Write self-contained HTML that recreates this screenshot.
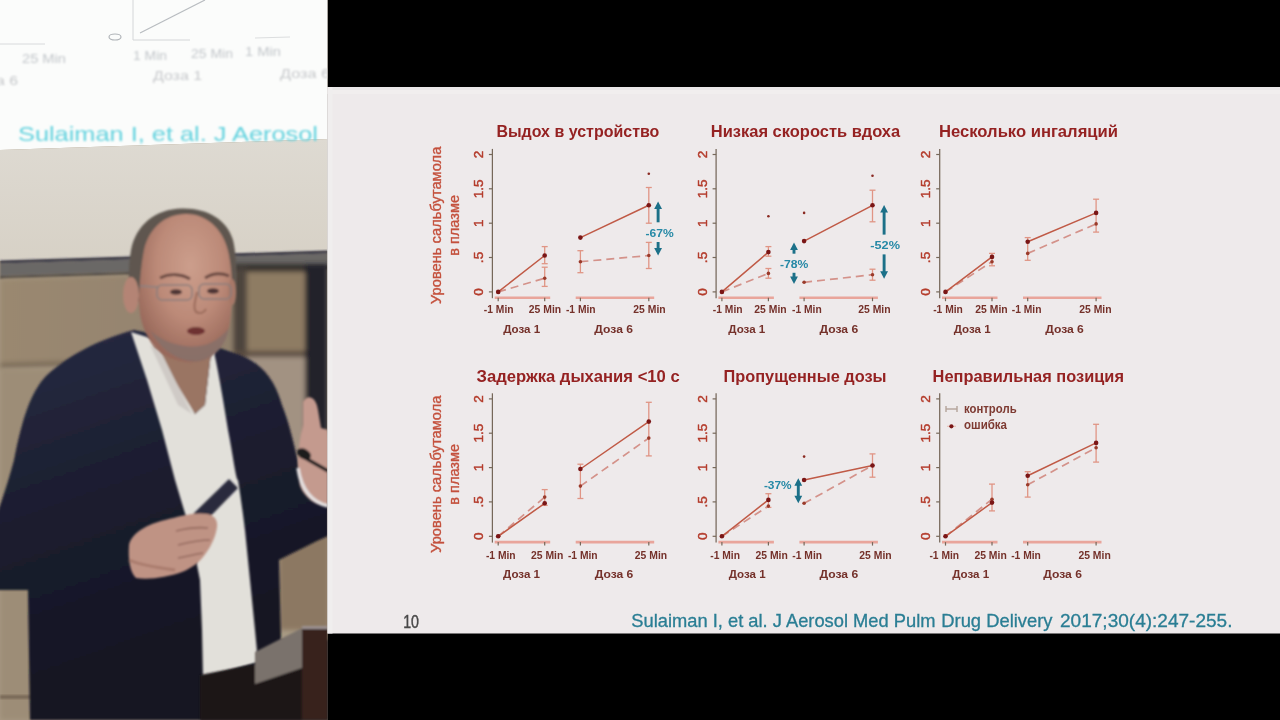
<!DOCTYPE html><html><head><meta charset="utf-8"><title>Slide</title><style>html,body{margin:0;padding:0;background:#000;width:1280px;height:720px;overflow:hidden}svg{position:absolute;left:0;top:0;display:block}</style></head><body>
<svg width="1280" height="720" viewBox="0 0 1280 720" font-family="'Liberation Sans', 'DejaVu Sans', sans-serif">
<rect x="0" y="0" width="1280" height="720" fill="#000"/>
<defs><clipPath id="pc"><rect x="0" y="0" width="327.5" height="720"/></clipPath><filter id="b1" x="-5%" y="-5%" width="110%" height="110%"><feGaussianBlur stdDeviation="1.2"/></filter><filter id="b2" x="-10%" y="-10%" width="120%" height="120%"><feGaussianBlur stdDeviation="2.5"/></filter><filter id="b3" x="-20%" y="-20%" width="140%" height="140%"><feGaussianBlur stdDeviation="5"/></filter><linearGradient id="scr" x1="0" y1="0" x2="0" y2="1"><stop offset="0" stop-color="#dedad2"/><stop offset="1" stop-color="#d7d1c6"/></linearGradient><linearGradient id="wallU" x1="0" y1="0" x2="1" y2="0"><stop offset="0" stop-color="#9a8870"/><stop offset="0.5" stop-color="#958470"/><stop offset="1" stop-color="#8a7a66"/></linearGradient><linearGradient id="suitG" x1="0" y1="0" x2="0.3" y2="1"><stop offset="0" stop-color="#282c44"/><stop offset="0.45" stop-color="#1c1e30"/><stop offset="1" stop-color="#121320"/></linearGradient><radialGradient id="faceG" cx="0.55" cy="0.35" r="0.65"><stop offset="0" stop-color="#cc9e8c"/><stop offset="0.55" stop-color="#bc8a78"/><stop offset="1" stop-color="#98685a"/></radialGradient></defs>
<g clip-path="url(#pc)">
<rect x="0" y="0" width="328" height="720" fill="#a89a84"/>
<path d="M0,0 L328,0 L328,139 L0,150 Z" fill="#fbfcfb"/>
<path d="M0,150 L328,139 L328,251 L0,261 Z" fill="url(#scr)"/>
<g filter="url(#b1)">
<path d="M0,260.5 L328,250.5 L328,253.5 L0,263.5 Z" fill="#3e3c4c"/>
<path d="M0,263.5 L328,253.5 L328,266 L0,276 Z" fill="#6a6866"/>
<path d="M0,276 L328,266 L328,269 L0,279 Z" fill="#4a4440"/>
</g>
<g filter="url(#b2)">
<path d="M0,279 L328,269 L328,720 L0,720 Z" fill="#a99b85"/>
<path d="M0,279 L328,269 L328,356 L0,366 Z" fill="url(#wallU)"/>
<path d="M0,363 L328,353 L328,358 L0,369 Z" fill="#7a6a58"/>
<rect x="233" y="264" width="95" height="8" fill="#34302f"/>
<rect x="233" y="268" width="14" height="90" fill="#4e443c"/>
<rect x="247" y="272" width="58" height="80" fill="#8e7c64"/>
<rect x="233" y="351" width="72" height="6" fill="#5a4c40"/>
<rect x="247" y="357" width="58" height="160" fill="#a29282"/>
<rect x="305" y="264" width="23" height="170" fill="#24242c"/>
</g>
<rect x="0" y="369" width="60" height="351" fill="#9d8d77" filter="url(#b2)"/><rect x="0" y="695" width="60" height="4" fill="#7a6a58" filter="url(#b1)"/>
<rect x="279" y="500" width="50" height="130" fill="#8c7862" filter="url(#b2)"/>
<g font-family="'Liberation Sans', 'DejaVu Sans', sans-serif" fill="#b8bcc0" font-size="12" filter="url(#b1)">
<text x="22" y="63" fill="#c2c6ca" textLength="44" lengthAdjust="spacingAndGlyphs">25 Min</text>
<text x="133" y="60" fill="#c2c6ca" textLength="34" lengthAdjust="spacingAndGlyphs">1 Min</text>
<text x="191" y="58" fill="#c2c6ca" textLength="42" lengthAdjust="spacingAndGlyphs">25 Min</text>
<text x="245" y="56" fill="#c2c6ca" textLength="36" lengthAdjust="spacingAndGlyphs">1 Min</text>
<text x="153" y="80" fill="#c6c8cb" textLength="49" lengthAdjust="spacingAndGlyphs">Доза 1</text>
<text x="280" y="78" fill="#c6c8cb" textLength="50" lengthAdjust="spacingAndGlyphs">Доза 6</text>
<text x="-4" y="85" fill="#c6c8cb" textLength="22" lengthAdjust="spacingAndGlyphs">a 6</text>
</g>
<ellipse cx="115" cy="37" rx="6" ry="3" fill="none" stroke="#b0b4b8" stroke-width="1.2"/>
<path d="M133,0 L133,40 L190,40" fill="none" stroke="#d4d6d8" stroke-width="1"/>
<path d="M140,33 L205,0" fill="none" stroke="#b8bcc0" stroke-width="1.2"/>
<path d="M0,44 L45,44" fill="none" stroke="#d8dadc" stroke-width="1"/>
<path d="M255,38 L290,37" fill="none" stroke="#dcdedf" stroke-width="1"/>
<text x="18" y="141" font-family="'Liberation Sans', 'DejaVu Sans', sans-serif" font-size="21" fill="#62d2de" textLength="300" lengthAdjust="spacingAndGlyphs" filter="url(#b1)">Sulaiman I, et al. J Aerosol</text>
<g filter="url(#b1)">
<path d="M134,330 C104,338 72,352 46,376 C30,393 22,420 14,460 C6,490 0,505 -5,520 L-5,590 L28,590 L30,720 L330,720 L330,640 L281,640 L279,560 C295,552 312,543 328,536 L328,470 L300,470 C294,445 290,425 282,405 C274,378 262,364 240,355 L214,346 Z" fill="url(#suitG)"/>
<path d="M150,345 C170,400 190,450 200,520" fill="none" stroke="#2e3450" stroke-width="3" opacity="0.7"/>
</g>
<g filter="url(#b1)">
<path d="M131,332 L150,338 L160,345 L195,414 L205,405 L212,345 L214,352 C220,380 224,405 228,430 C233,455 236,480 238,480 C242,505 245,530 245,530 L250,580 L255,630 L258,662 L203,678 L202,630 L200,580 L190,530 L175,480 L162,430 L147,380 Z" fill="#e2e0da"/>
<path d="M150,340 L195,414 L205,405 L212,345 C200,360 170,362 150,340 Z" fill="#9a7464"/>
<path d="M160,350 L192,414 L178,405 L150,345 Z" fill="#cfcac6"/>
</g>
<g filter="url(#b1)">
<path d="M182,208.5 C155,209 136,225 131,250 C128,268 128,285 131,302 L235,302 C237,282 237,256 233,240 C227,220 208,208 182,208.5 Z" fill="#5e5750"/>
<path d="M186,214 C165,214 149,228 144,250 C141,265 140,280 139,295 C138,320 146,340 160,352 C172,361 188,364 201,361 C216,357 227,343 230,322 C233,300 233,275 229,255 C225,232 209,214 186,214 Z" fill="url(#faceG)"/>
<ellipse cx="131" cy="295" rx="8" ry="18" fill="#b48474"/>
<ellipse cx="232" cy="292" rx="4" ry="13" fill="#a87868"/>
<path d="M150,330 C160,350 180,364 200,361 C216,357 226,345 229,328 C215,345 200,348 185,346 C170,344 158,338 150,330 Z" fill="#86706a" opacity="0.85"/>
<path d="M160,278 C170,273 182,274 190,279" fill="none" stroke="#6a4a42" stroke-width="2.8"/>
<path d="M205,278 C213,273 222,273 229,276" fill="none" stroke="#6a4a42" stroke-width="2.8"/>
<path d="M140,286 L158,287" fill="none" stroke="#8a8282" stroke-width="1.5"/>
<rect x="157" y="285" width="35" height="15" rx="5" fill="none" stroke="#8a7e7c" stroke-width="1.5"/>
<rect x="199" y="284" width="32" height="15" rx="5" fill="none" stroke="#8a7e7c" stroke-width="1.5"/>
<ellipse cx="176" cy="292" rx="6" ry="2.8" fill="#4e3434"/>
<ellipse cx="213" cy="291" rx="6" ry="2.8" fill="#4e3434"/>
<path d="M197,292 C195,302 193,308 196,312 C200,314 204,313 206,309" fill="none" stroke="#9a6a5a" stroke-width="2"/>
<ellipse cx="196" cy="331" rx="9" ry="4" fill="#6e3232"/>
</g>
<g filter="url(#b1)">
<path d="M229,479 L238,488 L201,526 L191,516 Z" fill="#2c2c3c"/>
<path d="M129,545 C132,532 148,524 165,520 C180,516 195,512 207,514 C214,515 218,520 217,527 C216,535 212,545 206,553 C200,562 192,568 182,572 C168,577 150,580 136,578 C130,572 128,560 129,545 Z" fill="#bf9384"/>
<path d="M176,531 C188,528 198,527 208,528 M178,545 C190,542 200,540 210,540 M178,558 C188,556 196,554 203,553" fill="none" stroke="#946a5e" stroke-width="1.6"/>
<path d="M129,560 C140,565 160,568 175,570" fill="none" stroke="#a87a6c" stroke-width="3"/>
</g>
<g filter="url(#b1)">
<path d="M303,402 C307,394 316,396 318,410 L321,428 L328,430 L328,506 C318,507 305,499 300,486 C296,470 298,445 303,425 Z" fill="#c49a8e"/>
<path d="M298,468 C301,490 313,503 328,506" fill="none" stroke="#e4e0e0" stroke-width="3.5"/>
<path d="M300,455 L328,471" stroke="#1a1a1e" stroke-width="3.5"/>
<ellipse cx="304" cy="454" rx="7.5" ry="5" fill="#1a1a1e" transform="rotate(30 304 454)"/>
</g>
<g filter="url(#b1)">
<path d="M200,675 L256,664 L302,640 L302,720 L200,720 Z" fill="#1a1519"/>
<path d="M255,652 L302,628 L302,668 L255,684 Z" fill="#7a726c"/>
<path d="M302,627 L328,627 L328,720 L302,720 Z" fill="#38201f"/>
<path d="M302,626 L328,626 L328,629 L302,629 Z" fill="#9a9090"/>
</g>
</g>
<defs><filter id="sb" x="0" y="0" width="100%" height="100%"><feGaussianBlur stdDeviation="0.45"/></filter></defs>
<rect x="327.5" y="87" width="953" height="546.5" fill="#eeeaeb"/><rect x="327.5" y="87" width="953" height="3" fill="#e9e7e8"/><rect x="327.5" y="90" width="953" height="4" fill="#f1eeee"/><rect x="327.5" y="87" width="5" height="546.5" fill="#f0eeee"/>
<g filter="url(#sb)">
<text x="496.4" y="137.1" font-size="17" fill="#952222" font-weight="bold" text-anchor="start" textLength="163.0" lengthAdjust="spacingAndGlyphs">Выдох в устройство</text>
<line x1="492.4" y1="148.89999999999998" x2="492.4" y2="298.2" stroke="#76685a" stroke-width="1.25"/>
<line x1="488.9" y1="291.9" x2="492.4" y2="291.9" stroke="#76685a" stroke-width="1.2"/>
<text transform="translate(482.8,291.9) rotate(-90)" font-size="13.5" fill="#b43c2c" stroke="#b43c2c" stroke-width="0.45" text-anchor="middle">0</text>
<line x1="488.9" y1="257.5" x2="492.4" y2="257.5" stroke="#76685a" stroke-width="1.2"/>
<text transform="translate(482.8,257.5) rotate(-90)" font-size="13.5" fill="#b43c2c" stroke="#b43c2c" stroke-width="0.45" text-anchor="middle">.5</text>
<line x1="488.9" y1="223.2" x2="492.4" y2="223.2" stroke="#76685a" stroke-width="1.2"/>
<text transform="translate(482.8,223.2) rotate(-90)" font-size="13.5" fill="#b43c2c" stroke="#b43c2c" stroke-width="0.45" text-anchor="middle">1</text>
<line x1="488.9" y1="188.8" x2="492.4" y2="188.8" stroke="#76685a" stroke-width="1.2"/>
<text transform="translate(482.8,188.8) rotate(-90)" font-size="13.5" fill="#b43c2c" stroke="#b43c2c" stroke-width="0.45" text-anchor="middle">1.5</text>
<line x1="488.9" y1="154.5" x2="492.4" y2="154.5" stroke="#76685a" stroke-width="1.2"/>
<text transform="translate(482.8,154.5) rotate(-90)" font-size="13.5" fill="#b43c2c" stroke="#b43c2c" stroke-width="0.45" text-anchor="middle">2</text>
<line x1="494.7" y1="297.7" x2="550.2" y2="297.7" stroke="#e9a59b" stroke-width="2.6"/>
<line x1="575.7" y1="297.7" x2="654.2" y2="297.7" stroke="#e9a59b" stroke-width="2.6"/>
<line x1="498.2" y1="297.7" x2="498.2" y2="301.2" stroke="#76685a" stroke-width="1.2"/>
<line x1="544.7" y1="297.7" x2="544.7" y2="301.2" stroke="#76685a" stroke-width="1.2"/>
<line x1="580.4" y1="297.7" x2="580.4" y2="301.2" stroke="#76685a" stroke-width="1.2"/>
<line x1="648.8" y1="297.7" x2="648.8" y2="301.2" stroke="#76685a" stroke-width="1.2"/>
<text x="498.7" y="313.1" font-size="11.5" fill="#74302a" font-weight="bold" text-anchor="middle" textLength="29.7" lengthAdjust="spacingAndGlyphs">-1 Min</text>
<text x="545.0" y="313.1" font-size="11.5" fill="#74302a" font-weight="bold" text-anchor="middle" textLength="32.3" lengthAdjust="spacingAndGlyphs">25 Min</text>
<text x="580.8" y="313.1" font-size="11.5" fill="#74302a" font-weight="bold" text-anchor="middle" textLength="29.7" lengthAdjust="spacingAndGlyphs">-1 Min</text>
<text x="649.5" y="313.1" font-size="11.5" fill="#74302a" font-weight="bold" text-anchor="middle" textLength="32.3" lengthAdjust="spacingAndGlyphs">25 Min</text>
<text x="521.7" y="332.8" font-size="11.8" fill="#74302a" font-weight="bold" text-anchor="middle" textLength="37.0" lengthAdjust="spacingAndGlyphs">Доза 1</text>
<text x="613.7" y="332.8" font-size="11.8" fill="#74302a" font-weight="bold" text-anchor="middle" textLength="38.7" lengthAdjust="spacingAndGlyphs">Доза 6</text>
<g stroke="#e09585" stroke-width="1.3"><line x1="544.7" y1="263.7" x2="544.7" y2="246.6"/><line x1="541.7" y1="263.7" x2="547.7" y2="263.7"/><line x1="541.7" y1="246.6" x2="547.7" y2="246.6"/></g>
<g stroke="#e09585" stroke-width="1.3"><line x1="544.7" y1="286.4" x2="544.7" y2="267.2"/><line x1="541.7" y1="286.4" x2="547.7" y2="286.4"/><line x1="541.7" y1="267.2" x2="547.7" y2="267.2"/></g>
<g stroke="#e09585" stroke-width="1.3"><line x1="580.4" y1="272.7" x2="580.4" y2="250.7"/><line x1="577.4" y1="272.7" x2="583.4" y2="272.7"/><line x1="577.4" y1="250.7" x2="583.4" y2="250.7"/></g>
<g stroke="#e09585" stroke-width="1.3"><line x1="648.8" y1="223.2" x2="648.8" y2="187.5"/><line x1="645.8" y1="223.2" x2="651.8" y2="223.2"/><line x1="645.8" y1="187.5" x2="651.8" y2="187.5"/></g>
<g stroke="#e09585" stroke-width="1.3"><line x1="648.8" y1="268.5" x2="648.8" y2="242.4"/><line x1="645.8" y1="268.5" x2="651.8" y2="268.5"/><line x1="645.8" y1="242.4" x2="651.8" y2="242.4"/></g>
<path d="M498.2,291.9 L544.7,278.2 M580.4,261.7 L648.8,255.5" stroke="#d4928a" stroke-width="1.7" fill="none" stroke-dasharray="8,5"/>
<path d="M498.2,291.9 L544.7,255.5 M580.4,237.6 L648.8,205.3" stroke="#c05a46" stroke-width="1.5" fill="none"/>
<circle cx="498.2" cy="291.9" r="1.8" fill="#9a3a2c"/>
<circle cx="544.7" cy="278.2" r="1.8" fill="#9a3a2c"/>
<circle cx="580.4" cy="261.7" r="1.8" fill="#9a3a2c"/>
<circle cx="648.8" cy="255.5" r="1.8" fill="#9a3a2c"/>
<circle cx="498.2" cy="291.9" r="2.3" fill="#7a1616"/>
<circle cx="544.7" cy="255.5" r="2.3" fill="#7a1616"/>
<circle cx="580.4" cy="237.6" r="2.3" fill="#7a1616"/>
<circle cx="648.8" cy="205.3" r="2.3" fill="#7a1616"/>
<circle cx="648.8" cy="173.7" r="1.3" fill="#8a2a20"/>
<text transform="translate(441,225.4) rotate(-90)" font-size="14.6" fill="#c4503c" stroke="#c4503c" stroke-width="0.35" text-anchor="middle" textLength="157.5" lengthAdjust="spacingAndGlyphs">Уровень сальбутамола</text>
<text transform="translate(458.5,225.4) rotate(-90)" font-size="14.6" fill="#c4503c" stroke="#c4503c" stroke-width="0.35" text-anchor="middle" textLength="60.8" lengthAdjust="spacingAndGlyphs">в плазме</text>
<line x1="658.1" y1="208.0" x2="658.1" y2="222.3" stroke="#1a6f88" stroke-width="2.9"/><path d="M654.2,209.0 L658.1,201.5 L662.0,209.0 Z" fill="#1a6f88"/>
<text x="659.7" y="237.4" font-size="11.8" fill="#2689a6" font-weight="bold" text-anchor="middle" textLength="28.2" lengthAdjust="spacingAndGlyphs">-67%</text>
<line x1="658.1" y1="242" x2="658.1" y2="249.1" stroke="#1a6f88" stroke-width="2.9"/><path d="M654.2,248.1 L658.1,255.6 L662.0,248.1 Z" fill="#1a6f88"/>
<text x="710.8" y="137.1" font-size="17" fill="#952222" font-weight="bold" text-anchor="start" textLength="189.4" lengthAdjust="spacingAndGlyphs">Низкая скорость вдоха</text>
<line x1="716.1" y1="148.89999999999998" x2="716.1" y2="298.2" stroke="#76685a" stroke-width="1.25"/>
<line x1="712.6" y1="291.9" x2="716.1" y2="291.9" stroke="#76685a" stroke-width="1.2"/>
<text transform="translate(706.5,291.9) rotate(-90)" font-size="13.5" fill="#b43c2c" stroke="#b43c2c" stroke-width="0.45" text-anchor="middle">0</text>
<line x1="712.6" y1="257.5" x2="716.1" y2="257.5" stroke="#76685a" stroke-width="1.2"/>
<text transform="translate(706.5,257.5) rotate(-90)" font-size="13.5" fill="#b43c2c" stroke="#b43c2c" stroke-width="0.45" text-anchor="middle">.5</text>
<line x1="712.6" y1="223.2" x2="716.1" y2="223.2" stroke="#76685a" stroke-width="1.2"/>
<text transform="translate(706.5,223.2) rotate(-90)" font-size="13.5" fill="#b43c2c" stroke="#b43c2c" stroke-width="0.45" text-anchor="middle">1</text>
<line x1="712.6" y1="188.8" x2="716.1" y2="188.8" stroke="#76685a" stroke-width="1.2"/>
<text transform="translate(706.5,188.8) rotate(-90)" font-size="13.5" fill="#b43c2c" stroke="#b43c2c" stroke-width="0.45" text-anchor="middle">1.5</text>
<line x1="712.6" y1="154.5" x2="716.1" y2="154.5" stroke="#76685a" stroke-width="1.2"/>
<text transform="translate(706.5,154.5) rotate(-90)" font-size="13.5" fill="#b43c2c" stroke="#b43c2c" stroke-width="0.45" text-anchor="middle">2</text>
<line x1="718.4" y1="297.7" x2="773.9" y2="297.7" stroke="#e9a59b" stroke-width="2.6"/>
<line x1="799.4" y1="297.7" x2="877.9" y2="297.7" stroke="#e9a59b" stroke-width="2.6"/>
<line x1="721.9" y1="297.7" x2="721.9" y2="301.2" stroke="#76685a" stroke-width="1.2"/>
<line x1="768.4" y1="297.7" x2="768.4" y2="301.2" stroke="#76685a" stroke-width="1.2"/>
<line x1="804.1" y1="297.7" x2="804.1" y2="301.2" stroke="#76685a" stroke-width="1.2"/>
<line x1="872.5" y1="297.7" x2="872.5" y2="301.2" stroke="#76685a" stroke-width="1.2"/>
<text x="727.7" y="313.1" font-size="11.5" fill="#74302a" font-weight="bold" text-anchor="middle" textLength="29.7" lengthAdjust="spacingAndGlyphs">-1 Min</text>
<text x="770.5" y="313.1" font-size="11.5" fill="#74302a" font-weight="bold" text-anchor="middle" textLength="32.3" lengthAdjust="spacingAndGlyphs">25 Min</text>
<text x="806.9" y="313.1" font-size="11.5" fill="#74302a" font-weight="bold" text-anchor="middle" textLength="29.7" lengthAdjust="spacingAndGlyphs">-1 Min</text>
<text x="874.4" y="313.1" font-size="11.5" fill="#74302a" font-weight="bold" text-anchor="middle" textLength="32.3" lengthAdjust="spacingAndGlyphs">25 Min</text>
<text x="746.8" y="332.8" font-size="11.8" fill="#74302a" font-weight="bold" text-anchor="middle" textLength="37.0" lengthAdjust="spacingAndGlyphs">Доза 1</text>
<text x="838.8" y="332.8" font-size="11.8" fill="#74302a" font-weight="bold" text-anchor="middle" textLength="38.7" lengthAdjust="spacingAndGlyphs">Доза 6</text>
<g stroke="#e09585" stroke-width="1.3"><line x1="768.4" y1="256.2" x2="768.4" y2="246.6"/><line x1="765.4" y1="256.2" x2="771.4" y2="256.2"/><line x1="765.4" y1="246.6" x2="771.4" y2="246.6"/></g>
<g stroke="#e09585" stroke-width="1.3"><line x1="768.4" y1="278.2" x2="768.4" y2="268.5"/><line x1="765.4" y1="278.2" x2="771.4" y2="278.2"/><line x1="765.4" y1="268.5" x2="771.4" y2="268.5"/></g>
<g stroke="#e09585" stroke-width="1.3"><line x1="872.5" y1="221.8" x2="872.5" y2="190.2"/><line x1="869.5" y1="221.8" x2="875.5" y2="221.8"/><line x1="869.5" y1="190.2" x2="875.5" y2="190.2"/></g>
<g stroke="#e09585" stroke-width="1.3"><line x1="872.5" y1="280.2" x2="872.5" y2="269.2"/><line x1="869.5" y1="280.2" x2="875.5" y2="280.2"/><line x1="869.5" y1="269.2" x2="875.5" y2="269.2"/></g>
<path d="M721.9,291.9 L768.4,273.4 M804.1,282.3 L872.5,274.7" stroke="#d4928a" stroke-width="1.7" fill="none" stroke-dasharray="8,5"/>
<path d="M721.9,291.9 L768.4,252.1 M804.1,241.1 L872.5,205.3" stroke="#c05a46" stroke-width="1.5" fill="none"/>
<circle cx="721.9" cy="291.9" r="1.8" fill="#9a3a2c"/>
<circle cx="768.4" cy="273.4" r="1.8" fill="#9a3a2c"/>
<circle cx="804.1" cy="282.3" r="1.8" fill="#9a3a2c"/>
<circle cx="872.5" cy="274.7" r="1.8" fill="#9a3a2c"/>
<circle cx="721.9" cy="291.9" r="2.3" fill="#7a1616"/>
<circle cx="768.4" cy="252.1" r="2.3" fill="#7a1616"/>
<circle cx="804.1" cy="241.1" r="2.3" fill="#7a1616"/>
<circle cx="872.5" cy="205.3" r="2.3" fill="#7a1616"/>
<circle cx="768.4" cy="216.3" r="1.3" fill="#8a2a20"/>
<circle cx="804.1" cy="212.9" r="1.3" fill="#8a2a20"/>
<circle cx="872.5" cy="175.8" r="1.3" fill="#8a2a20"/>
<line x1="794" y1="249.0" x2="794" y2="253.7" stroke="#1a6f88" stroke-width="2.9"/><path d="M790.1,250.0 L794,242.5 L797.9,250.0 Z" fill="#1a6f88"/>
<text x="794.1" y="267.6" font-size="11.8" fill="#2689a6" font-weight="bold" text-anchor="middle" textLength="28.4" lengthAdjust="spacingAndGlyphs">-78%</text>
<line x1="794" y1="272.8" x2="794" y2="277.5" stroke="#1a6f88" stroke-width="2.9"/><path d="M790.1,276.5 L794,284 L797.9,276.5 Z" fill="#1a6f88"/>
<line x1="884.1" y1="211.4" x2="884.1" y2="234.6" stroke="#1a6f88" stroke-width="2.9"/><path d="M880.2,212.4 L884.1,204.9 L888.0,212.4 Z" fill="#1a6f88"/>
<text x="885.1" y="249.0" font-size="11.8" fill="#2689a6" font-weight="bold" text-anchor="middle" textLength="29.7" lengthAdjust="spacingAndGlyphs">-52%</text>
<line x1="884.1" y1="254.4" x2="884.1" y2="272.3" stroke="#1a6f88" stroke-width="2.9"/><path d="M880.2,271.3 L884.1,278.8 L888.0,271.3 Z" fill="#1a6f88"/>
<text x="939.0" y="137.1" font-size="17" fill="#952222" font-weight="bold" text-anchor="start" textLength="179.0" lengthAdjust="spacingAndGlyphs">Несколько ингаляций</text>
<line x1="939.7" y1="148.89999999999998" x2="939.7" y2="298.2" stroke="#76685a" stroke-width="1.25"/>
<line x1="936.2" y1="291.9" x2="939.7" y2="291.9" stroke="#76685a" stroke-width="1.2"/>
<text transform="translate(930.1,291.9) rotate(-90)" font-size="13.5" fill="#b43c2c" stroke="#b43c2c" stroke-width="0.45" text-anchor="middle">0</text>
<line x1="936.2" y1="257.5" x2="939.7" y2="257.5" stroke="#76685a" stroke-width="1.2"/>
<text transform="translate(930.1,257.5) rotate(-90)" font-size="13.5" fill="#b43c2c" stroke="#b43c2c" stroke-width="0.45" text-anchor="middle">.5</text>
<line x1="936.2" y1="223.2" x2="939.7" y2="223.2" stroke="#76685a" stroke-width="1.2"/>
<text transform="translate(930.1,223.2) rotate(-90)" font-size="13.5" fill="#b43c2c" stroke="#b43c2c" stroke-width="0.45" text-anchor="middle">1</text>
<line x1="936.2" y1="188.8" x2="939.7" y2="188.8" stroke="#76685a" stroke-width="1.2"/>
<text transform="translate(930.1,188.8) rotate(-90)" font-size="13.5" fill="#b43c2c" stroke="#b43c2c" stroke-width="0.45" text-anchor="middle">1.5</text>
<line x1="936.2" y1="154.5" x2="939.7" y2="154.5" stroke="#76685a" stroke-width="1.2"/>
<text transform="translate(930.1,154.5) rotate(-90)" font-size="13.5" fill="#b43c2c" stroke="#b43c2c" stroke-width="0.45" text-anchor="middle">2</text>
<line x1="942.0" y1="297.7" x2="997.5" y2="297.7" stroke="#e9a59b" stroke-width="2.6"/>
<line x1="1023.0" y1="297.7" x2="1101.5" y2="297.7" stroke="#e9a59b" stroke-width="2.6"/>
<line x1="945.5" y1="297.7" x2="945.5" y2="301.2" stroke="#76685a" stroke-width="1.2"/>
<line x1="992.0" y1="297.7" x2="992.0" y2="301.2" stroke="#76685a" stroke-width="1.2"/>
<line x1="1027.7" y1="297.7" x2="1027.7" y2="301.2" stroke="#76685a" stroke-width="1.2"/>
<line x1="1096.1" y1="297.7" x2="1096.1" y2="301.2" stroke="#76685a" stroke-width="1.2"/>
<text x="948.0" y="313.1" font-size="11.5" fill="#74302a" font-weight="bold" text-anchor="middle" textLength="29.7" lengthAdjust="spacingAndGlyphs">-1 Min</text>
<text x="991.5" y="313.1" font-size="11.5" fill="#74302a" font-weight="bold" text-anchor="middle" textLength="32.3" lengthAdjust="spacingAndGlyphs">25 Min</text>
<text x="1026.6" y="313.1" font-size="11.5" fill="#74302a" font-weight="bold" text-anchor="middle" textLength="29.7" lengthAdjust="spacingAndGlyphs">-1 Min</text>
<text x="1095.4" y="313.1" font-size="11.5" fill="#74302a" font-weight="bold" text-anchor="middle" textLength="32.3" lengthAdjust="spacingAndGlyphs">25 Min</text>
<text x="972.2" y="332.8" font-size="11.8" fill="#74302a" font-weight="bold" text-anchor="middle" textLength="37.0" lengthAdjust="spacingAndGlyphs">Доза 1</text>
<text x="1064.5" y="332.8" font-size="11.8" fill="#74302a" font-weight="bold" text-anchor="middle" textLength="38.7" lengthAdjust="spacingAndGlyphs">Доза 6</text>
<g stroke="#e09585" stroke-width="1.3"><line x1="992.0" y1="265.8" x2="992.0" y2="253.4"/><line x1="989.0" y1="265.8" x2="995.0" y2="265.8"/><line x1="989.0" y1="253.4" x2="995.0" y2="253.4"/></g>
<g stroke="#e09585" stroke-width="1.3"><line x1="1027.7" y1="260.3" x2="1027.7" y2="237.6"/><line x1="1024.7" y1="260.3" x2="1030.7" y2="260.3"/><line x1="1024.7" y1="237.6" x2="1030.7" y2="237.6"/></g>
<g stroke="#e09585" stroke-width="1.3"><line x1="1096.1" y1="232.1" x2="1096.1" y2="199.2"/><line x1="1093.1" y1="232.1" x2="1099.1" y2="232.1"/><line x1="1093.1" y1="199.2" x2="1099.1" y2="199.2"/></g>
<path d="M945.5,291.9 L992.0,261.7 M1027.7,253.4 L1096.1,223.9" stroke="#d4928a" stroke-width="1.7" fill="none" stroke-dasharray="8,5"/>
<path d="M945.5,291.9 L992.0,256.9 M1027.7,241.7 L1096.1,212.9" stroke="#c05a46" stroke-width="1.5" fill="none"/>
<circle cx="945.5" cy="291.9" r="1.8" fill="#9a3a2c"/>
<circle cx="992.0" cy="261.7" r="1.8" fill="#9a3a2c"/>
<circle cx="1027.7" cy="253.4" r="1.8" fill="#9a3a2c"/>
<circle cx="1096.1" cy="223.9" r="1.8" fill="#9a3a2c"/>
<circle cx="945.5" cy="291.9" r="2.3" fill="#7a1616"/>
<circle cx="992.0" cy="256.9" r="2.3" fill="#7a1616"/>
<circle cx="1027.7" cy="241.7" r="2.3" fill="#7a1616"/>
<circle cx="1096.1" cy="212.9" r="2.3" fill="#7a1616"/>
<text x="476.5" y="381.5" font-size="17" fill="#952222" font-weight="bold" text-anchor="start" textLength="203.2" lengthAdjust="spacingAndGlyphs">Задержка дыхания &lt;10 с</text>
<line x1="492.4" y1="393.29999999999995" x2="492.4" y2="542.5999999999999" stroke="#76685a" stroke-width="1.25"/>
<line x1="488.9" y1="536.3" x2="492.4" y2="536.3" stroke="#76685a" stroke-width="1.2"/>
<text transform="translate(482.8,536.3) rotate(-90)" font-size="13.5" fill="#b43c2c" stroke="#b43c2c" stroke-width="0.45" text-anchor="middle">0</text>
<line x1="488.9" y1="501.9" x2="492.4" y2="501.9" stroke="#76685a" stroke-width="1.2"/>
<text transform="translate(482.8,501.9) rotate(-90)" font-size="13.5" fill="#b43c2c" stroke="#b43c2c" stroke-width="0.45" text-anchor="middle">.5</text>
<line x1="488.9" y1="467.6" x2="492.4" y2="467.6" stroke="#76685a" stroke-width="1.2"/>
<text transform="translate(482.8,467.6) rotate(-90)" font-size="13.5" fill="#b43c2c" stroke="#b43c2c" stroke-width="0.45" text-anchor="middle">1</text>
<line x1="488.9" y1="433.2" x2="492.4" y2="433.2" stroke="#76685a" stroke-width="1.2"/>
<text transform="translate(482.8,433.2) rotate(-90)" font-size="13.5" fill="#b43c2c" stroke="#b43c2c" stroke-width="0.45" text-anchor="middle">1.5</text>
<line x1="488.9" y1="398.9" x2="492.4" y2="398.9" stroke="#76685a" stroke-width="1.2"/>
<text transform="translate(482.8,398.9) rotate(-90)" font-size="13.5" fill="#b43c2c" stroke="#b43c2c" stroke-width="0.45" text-anchor="middle">2</text>
<line x1="494.7" y1="542.0999999999999" x2="550.2" y2="542.0999999999999" stroke="#e9a59b" stroke-width="2.6"/>
<line x1="575.7" y1="542.0999999999999" x2="654.2" y2="542.0999999999999" stroke="#e9a59b" stroke-width="2.6"/>
<line x1="498.2" y1="542.0999999999999" x2="498.2" y2="545.5999999999999" stroke="#76685a" stroke-width="1.2"/>
<line x1="544.7" y1="542.0999999999999" x2="544.7" y2="545.5999999999999" stroke="#76685a" stroke-width="1.2"/>
<line x1="580.4" y1="542.0999999999999" x2="580.4" y2="545.5999999999999" stroke="#76685a" stroke-width="1.2"/>
<line x1="648.8" y1="542.0999999999999" x2="648.8" y2="545.5999999999999" stroke="#76685a" stroke-width="1.2"/>
<text x="500.8" y="558.6" font-size="11.5" fill="#74302a" font-weight="bold" text-anchor="middle" textLength="29.7" lengthAdjust="spacingAndGlyphs">-1 Min</text>
<text x="547.2" y="558.6" font-size="11.5" fill="#74302a" font-weight="bold" text-anchor="middle" textLength="32.3" lengthAdjust="spacingAndGlyphs">25 Min</text>
<text x="582.8" y="558.6" font-size="11.5" fill="#74302a" font-weight="bold" text-anchor="middle" textLength="29.7" lengthAdjust="spacingAndGlyphs">-1 Min</text>
<text x="651.0" y="558.6" font-size="11.5" fill="#74302a" font-weight="bold" text-anchor="middle" textLength="32.3" lengthAdjust="spacingAndGlyphs">25 Min</text>
<text x="521.5" y="577.8" font-size="11.8" fill="#74302a" font-weight="bold" text-anchor="middle" textLength="37.0" lengthAdjust="spacingAndGlyphs">Доза 1</text>
<text x="614.0" y="577.8" font-size="11.8" fill="#74302a" font-weight="bold" text-anchor="middle" textLength="38.7" lengthAdjust="spacingAndGlyphs">Доза 6</text>
<g stroke="#e09585" stroke-width="1.3"><line x1="544.7" y1="505.4" x2="544.7" y2="489.6"/><line x1="541.7" y1="505.4" x2="547.7" y2="505.4"/><line x1="541.7" y1="489.6" x2="547.7" y2="489.6"/></g>
<g stroke="#e09585" stroke-width="1.3"><line x1="580.4" y1="498.5" x2="580.4" y2="464.2"/><line x1="577.4" y1="498.5" x2="583.4" y2="498.5"/><line x1="577.4" y1="464.2" x2="583.4" y2="464.2"/></g>
<g stroke="#e09585" stroke-width="1.3"><line x1="648.8" y1="455.9" x2="648.8" y2="402.3"/><line x1="645.8" y1="455.9" x2="651.8" y2="455.9"/><line x1="645.8" y1="402.3" x2="651.8" y2="402.3"/></g>
<path d="M498.2,536.3 L544.7,497.1 M580.4,486.1 L648.8,438.1" stroke="#d4928a" stroke-width="1.7" fill="none" stroke-dasharray="8,5"/>
<path d="M498.2,536.3 L544.7,503.3 M580.4,469.0 L648.8,421.6" stroke="#c05a46" stroke-width="1.5" fill="none"/>
<circle cx="498.2" cy="536.3" r="1.8" fill="#9a3a2c"/>
<circle cx="544.7" cy="497.1" r="1.8" fill="#9a3a2c"/>
<circle cx="580.4" cy="486.1" r="1.8" fill="#9a3a2c"/>
<circle cx="648.8" cy="438.1" r="1.8" fill="#9a3a2c"/>
<circle cx="498.2" cy="536.3" r="2.3" fill="#7a1616"/>
<circle cx="544.7" cy="503.3" r="2.3" fill="#7a1616"/>
<circle cx="580.4" cy="469.0" r="2.3" fill="#7a1616"/>
<circle cx="648.8" cy="421.6" r="2.3" fill="#7a1616"/>
<text transform="translate(441,474.3) rotate(-90)" font-size="14.6" fill="#c4503c" stroke="#c4503c" stroke-width="0.35" text-anchor="middle" textLength="157.5" lengthAdjust="spacingAndGlyphs">Уровень сальбутамола</text>
<text transform="translate(458.5,474.3) rotate(-90)" font-size="14.6" fill="#c4503c" stroke="#c4503c" stroke-width="0.35" text-anchor="middle" textLength="60.8" lengthAdjust="spacingAndGlyphs">в плазме</text>
<text x="723.5" y="381.5" font-size="17" fill="#952222" font-weight="bold" text-anchor="start" textLength="163.0" lengthAdjust="spacingAndGlyphs">Пропущенные дозы</text>
<line x1="716.1" y1="393.29999999999995" x2="716.1" y2="542.5999999999999" stroke="#76685a" stroke-width="1.25"/>
<line x1="712.6" y1="536.3" x2="716.1" y2="536.3" stroke="#76685a" stroke-width="1.2"/>
<text transform="translate(706.5,536.3) rotate(-90)" font-size="13.5" fill="#b43c2c" stroke="#b43c2c" stroke-width="0.45" text-anchor="middle">0</text>
<line x1="712.6" y1="501.9" x2="716.1" y2="501.9" stroke="#76685a" stroke-width="1.2"/>
<text transform="translate(706.5,501.9) rotate(-90)" font-size="13.5" fill="#b43c2c" stroke="#b43c2c" stroke-width="0.45" text-anchor="middle">.5</text>
<line x1="712.6" y1="467.6" x2="716.1" y2="467.6" stroke="#76685a" stroke-width="1.2"/>
<text transform="translate(706.5,467.6) rotate(-90)" font-size="13.5" fill="#b43c2c" stroke="#b43c2c" stroke-width="0.45" text-anchor="middle">1</text>
<line x1="712.6" y1="433.2" x2="716.1" y2="433.2" stroke="#76685a" stroke-width="1.2"/>
<text transform="translate(706.5,433.2) rotate(-90)" font-size="13.5" fill="#b43c2c" stroke="#b43c2c" stroke-width="0.45" text-anchor="middle">1.5</text>
<line x1="712.6" y1="398.9" x2="716.1" y2="398.9" stroke="#76685a" stroke-width="1.2"/>
<text transform="translate(706.5,398.9) rotate(-90)" font-size="13.5" fill="#b43c2c" stroke="#b43c2c" stroke-width="0.45" text-anchor="middle">2</text>
<line x1="718.4" y1="542.0999999999999" x2="773.9" y2="542.0999999999999" stroke="#e9a59b" stroke-width="2.6"/>
<line x1="799.4" y1="542.0999999999999" x2="877.9" y2="542.0999999999999" stroke="#e9a59b" stroke-width="2.6"/>
<line x1="721.9" y1="542.0999999999999" x2="721.9" y2="545.5999999999999" stroke="#76685a" stroke-width="1.2"/>
<line x1="768.4" y1="542.0999999999999" x2="768.4" y2="545.5999999999999" stroke="#76685a" stroke-width="1.2"/>
<line x1="804.1" y1="542.0999999999999" x2="804.1" y2="545.5999999999999" stroke="#76685a" stroke-width="1.2"/>
<line x1="872.5" y1="542.0999999999999" x2="872.5" y2="545.5999999999999" stroke="#76685a" stroke-width="1.2"/>
<text x="725.1" y="558.6" font-size="11.5" fill="#74302a" font-weight="bold" text-anchor="middle" textLength="29.7" lengthAdjust="spacingAndGlyphs">-1 Min</text>
<text x="771.7" y="558.6" font-size="11.5" fill="#74302a" font-weight="bold" text-anchor="middle" textLength="32.3" lengthAdjust="spacingAndGlyphs">25 Min</text>
<text x="807.2" y="558.6" font-size="11.5" fill="#74302a" font-weight="bold" text-anchor="middle" textLength="29.7" lengthAdjust="spacingAndGlyphs">-1 Min</text>
<text x="875.5" y="558.6" font-size="11.5" fill="#74302a" font-weight="bold" text-anchor="middle" textLength="32.3" lengthAdjust="spacingAndGlyphs">25 Min</text>
<text x="747.2" y="577.8" font-size="11.8" fill="#74302a" font-weight="bold" text-anchor="middle" textLength="37.0" lengthAdjust="spacingAndGlyphs">Доза 1</text>
<text x="838.8" y="577.8" font-size="11.8" fill="#74302a" font-weight="bold" text-anchor="middle" textLength="38.7" lengthAdjust="spacingAndGlyphs">Доза 6</text>
<g stroke="#e09585" stroke-width="1.3"><line x1="768.4" y1="507.4" x2="768.4" y2="493.7"/><line x1="765.4" y1="507.4" x2="771.4" y2="507.4"/><line x1="765.4" y1="493.7" x2="771.4" y2="493.7"/></g>
<g stroke="#e09585" stroke-width="1.3"><line x1="872.5" y1="477.2" x2="872.5" y2="453.9"/><line x1="869.5" y1="477.2" x2="875.5" y2="477.2"/><line x1="869.5" y1="453.9" x2="875.5" y2="453.9"/></g>
<path d="M721.9,536.3 L768.4,506.1 M804.1,503.3 L872.5,465.5" stroke="#d4928a" stroke-width="1.7" fill="none" stroke-dasharray="8,5"/>
<path d="M721.9,536.3 L768.4,499.9 M804.1,480.0 L872.5,465.5" stroke="#c05a46" stroke-width="1.5" fill="none"/>
<circle cx="721.9" cy="536.3" r="1.8" fill="#9a3a2c"/>
<circle cx="768.4" cy="506.1" r="1.8" fill="#9a3a2c"/>
<circle cx="804.1" cy="503.3" r="1.8" fill="#9a3a2c"/>
<circle cx="872.5" cy="465.5" r="1.8" fill="#9a3a2c"/>
<circle cx="721.9" cy="536.3" r="2.3" fill="#7a1616"/>
<circle cx="768.4" cy="499.9" r="2.3" fill="#7a1616"/>
<circle cx="804.1" cy="480.0" r="2.3" fill="#7a1616"/>
<circle cx="872.5" cy="465.5" r="2.3" fill="#7a1616"/>
<circle cx="804.1" cy="456.6" r="1.3" fill="#8a2a20"/>
<path d="M798.3,484 L798.3,497.6" stroke="#1a6f88" stroke-width="2.9"/>
<path d="M794.4,485.8 L798.3,478.3 L802.2,485.8 Z M794.4,495.8 L798.3,503.3 L802.2,495.8 Z" fill="#1a6f88"/>
<text x="777.8" y="488.9" font-size="11.8" fill="#2689a6" font-weight="bold" text-anchor="middle" textLength="27.8" lengthAdjust="spacingAndGlyphs">-37%</text>
<text x="932.6" y="381.5" font-size="17" fill="#952222" font-weight="bold" text-anchor="start" textLength="191.4" lengthAdjust="spacingAndGlyphs">Неправильная позиция</text>
<line x1="939.7" y1="393.29999999999995" x2="939.7" y2="542.5999999999999" stroke="#76685a" stroke-width="1.25"/>
<line x1="936.2" y1="536.3" x2="939.7" y2="536.3" stroke="#76685a" stroke-width="1.2"/>
<text transform="translate(930.1,536.3) rotate(-90)" font-size="13.5" fill="#b43c2c" stroke="#b43c2c" stroke-width="0.45" text-anchor="middle">0</text>
<line x1="936.2" y1="501.9" x2="939.7" y2="501.9" stroke="#76685a" stroke-width="1.2"/>
<text transform="translate(930.1,501.9) rotate(-90)" font-size="13.5" fill="#b43c2c" stroke="#b43c2c" stroke-width="0.45" text-anchor="middle">.5</text>
<line x1="936.2" y1="467.6" x2="939.7" y2="467.6" stroke="#76685a" stroke-width="1.2"/>
<text transform="translate(930.1,467.6) rotate(-90)" font-size="13.5" fill="#b43c2c" stroke="#b43c2c" stroke-width="0.45" text-anchor="middle">1</text>
<line x1="936.2" y1="433.2" x2="939.7" y2="433.2" stroke="#76685a" stroke-width="1.2"/>
<text transform="translate(930.1,433.2) rotate(-90)" font-size="13.5" fill="#b43c2c" stroke="#b43c2c" stroke-width="0.45" text-anchor="middle">1.5</text>
<line x1="936.2" y1="398.9" x2="939.7" y2="398.9" stroke="#76685a" stroke-width="1.2"/>
<text transform="translate(930.1,398.9) rotate(-90)" font-size="13.5" fill="#b43c2c" stroke="#b43c2c" stroke-width="0.45" text-anchor="middle">2</text>
<line x1="942.0" y1="542.0999999999999" x2="997.5" y2="542.0999999999999" stroke="#e9a59b" stroke-width="2.6"/>
<line x1="1023.0" y1="542.0999999999999" x2="1101.5" y2="542.0999999999999" stroke="#e9a59b" stroke-width="2.6"/>
<line x1="945.5" y1="542.0999999999999" x2="945.5" y2="545.5999999999999" stroke="#76685a" stroke-width="1.2"/>
<line x1="992.0" y1="542.0999999999999" x2="992.0" y2="545.5999999999999" stroke="#76685a" stroke-width="1.2"/>
<line x1="1027.7" y1="542.0999999999999" x2="1027.7" y2="545.5999999999999" stroke="#76685a" stroke-width="1.2"/>
<line x1="1096.1" y1="542.0999999999999" x2="1096.1" y2="545.5999999999999" stroke="#76685a" stroke-width="1.2"/>
<text x="944.3" y="558.6" font-size="11.5" fill="#74302a" font-weight="bold" text-anchor="middle" textLength="29.7" lengthAdjust="spacingAndGlyphs">-1 Min</text>
<text x="990.6" y="558.6" font-size="11.5" fill="#74302a" font-weight="bold" text-anchor="middle" textLength="32.3" lengthAdjust="spacingAndGlyphs">25 Min</text>
<text x="1026.0" y="558.6" font-size="11.5" fill="#74302a" font-weight="bold" text-anchor="middle" textLength="29.7" lengthAdjust="spacingAndGlyphs">-1 Min</text>
<text x="1094.6" y="558.6" font-size="11.5" fill="#74302a" font-weight="bold" text-anchor="middle" textLength="32.3" lengthAdjust="spacingAndGlyphs">25 Min</text>
<text x="970.7" y="577.8" font-size="11.8" fill="#74302a" font-weight="bold" text-anchor="middle" textLength="37.0" lengthAdjust="spacingAndGlyphs">Доза 1</text>
<text x="1062.6" y="577.8" font-size="11.8" fill="#74302a" font-weight="bold" text-anchor="middle" textLength="38.7" lengthAdjust="spacingAndGlyphs">Доза 6</text>
<g stroke="#e09585" stroke-width="1.3"><line x1="992.0" y1="510.9" x2="992.0" y2="484.1"/><line x1="989.0" y1="510.9" x2="995.0" y2="510.9"/><line x1="989.0" y1="484.1" x2="995.0" y2="484.1"/></g>
<g stroke="#e09585" stroke-width="1.3"><line x1="1027.7" y1="497.1" x2="1027.7" y2="471.7"/><line x1="1024.7" y1="497.1" x2="1030.7" y2="497.1"/><line x1="1024.7" y1="471.7" x2="1030.7" y2="471.7"/></g>
<g stroke="#e09585" stroke-width="1.3"><line x1="1096.1" y1="462.1" x2="1096.1" y2="424.3"/><line x1="1093.1" y1="462.1" x2="1099.1" y2="462.1"/><line x1="1093.1" y1="424.3" x2="1099.1" y2="424.3"/></g>
<path d="M945.5,536.3 L992.0,499.2 M1027.7,484.8 L1096.1,447.7" stroke="#d4928a" stroke-width="1.7" fill="none" stroke-dasharray="8,5"/>
<path d="M945.5,536.3 L992.0,502.6 M1027.7,475.8 L1096.1,442.9" stroke="#c05a46" stroke-width="1.5" fill="none"/>
<circle cx="945.5" cy="536.3" r="1.8" fill="#9a3a2c"/>
<circle cx="992.0" cy="499.2" r="1.8" fill="#9a3a2c"/>
<circle cx="1027.7" cy="484.8" r="1.8" fill="#9a3a2c"/>
<circle cx="1096.1" cy="447.7" r="1.8" fill="#9a3a2c"/>
<circle cx="945.5" cy="536.3" r="2.3" fill="#7a1616"/>
<circle cx="992.0" cy="502.6" r="2.3" fill="#7a1616"/>
<circle cx="1027.7" cy="475.8" r="2.3" fill="#7a1616"/>
<circle cx="1096.1" cy="442.9" r="2.3" fill="#7a1616"/>
<g stroke="#b4a49a" stroke-width="1.4"><line x1="946" y1="409" x2="957" y2="409"/><line x1="946" y1="406" x2="946" y2="412"/><line x1="957" y1="406" x2="957" y2="412"/></g>
<text x="964.0" y="413.4" font-size="12.5" fill="#7e3a32" font-weight="bold" text-anchor="start" textLength="52.6" lengthAdjust="spacingAndGlyphs">контроль</text>
<line x1="947" y1="426.3" x2="956" y2="426.3" stroke="#e8c0b4" stroke-width="1.2"/><circle cx="951.4" cy="426.3" r="2.1" fill="#7a1616"/>
<text x="964.0" y="429.4" font-size="12.5" fill="#7e3a32" font-weight="bold" text-anchor="start" textLength="43.0" lengthAdjust="spacingAndGlyphs">ошибка</text>
<text x="403.2" y="628.0" font-size="18" fill="#484848" text-anchor="start" textLength="15.8" lengthAdjust="spacingAndGlyphs" stroke="#484848" stroke-width="0.45">10</text>
<text x="631.3" y="627.3" font-size="17.8" fill="#2a7e94" text-anchor="start" textLength="304.2" lengthAdjust="spacingAndGlyphs" stroke="#2a7e94" stroke-width="0.3">Sulaiman I, et al. J Aerosol Med Pulm</text>
<text x="941.3" y="627.3" font-size="17.8" fill="#2a7e94" text-anchor="start" textLength="111.2" lengthAdjust="spacingAndGlyphs" stroke="#2a7e94" stroke-width="0.3">Drug Delivery</text>
<text x="1060.0" y="627.3" font-size="17.8" fill="#2a7e94" text-anchor="start" textLength="172.5" lengthAdjust="spacingAndGlyphs" stroke="#2a7e94" stroke-width="0.3">2017;30(4):247-255.</text>
</g>
</svg></body></html>
